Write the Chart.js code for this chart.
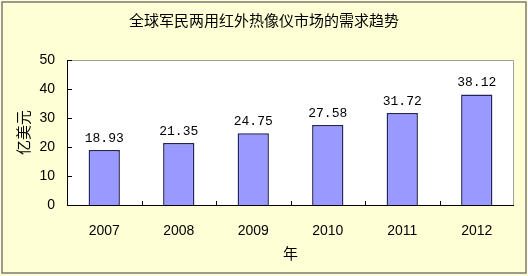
<!DOCTYPE html>
<html>
<head>
<meta charset="utf-8">
<script src="https://cdn.jsdelivr.net/npm/chart.js@4/dist/chart.umd.min.js"></script>
<style>
  html, body { margin: 0; padding: 0; background: #ffffff; }
  #wrap { width: 528px; height: 276px; position: relative; }
</style>
</head>
<body>
<div id="wrap"><canvas id="demandChart" width="528" height="276"></canvas></div>
<script>
// === Data ===
const years = ['2007', '2008', '2009', '2010', '2011', '2012'];
const demand = [18.93, 21.35, 24.75, 27.58, 31.72, 38.12];
const yTicks = [0, 10, 20, 30, 40, 50];
const chartTitle = '全球军民两用红外热像仪市场的需求趋势';
const yTitle = '亿美元';
const xTitle = '年';

// background, frame, title, inside ticks and value labels
const decorPlugin = {
  id: 'decor',
  beforeDraw(chart) {
    const ctx = chart.ctx;
    const a = chart.chartArea;
    ctx.save();
    ctx.fillStyle = '#ffffd6';
    ctx.fillRect(0, 0, chart.width, chart.height);
    ctx.strokeStyle = '#7a7a7a';
    ctx.lineWidth = 1.5;
    ctx.strokeRect(2, 2, chart.width - 4, chart.height - 5);
    ctx.fillStyle = '#ffffff';
    ctx.fillRect(a.left, a.top, a.right - a.left, a.bottom - a.top);
    ctx.strokeStyle = '#a0a0a0';
    ctx.lineWidth = 1;
    ctx.beginPath();
    ctx.moveTo(a.left, a.top + 0.5);
    ctx.lineTo(a.right - 0.5, a.top + 0.5);
    ctx.lineTo(a.right - 0.5, a.bottom);
    ctx.stroke();
    ctx.fillStyle = '#000000';
    ctx.font = '15px "Noto Sans CJK SC"';
    ctx.textAlign = 'center';
    ctx.textBaseline = 'middle';
    ctx.fillText(chartTitle, chart.width / 2, 20);
    ctx.restore();
  },
  afterDraw(chart) {
    const ctx = chart.ctx;
    const a = chart.chartArea;
    const x = chart.scales.x;
    const y = chart.scales.y;
    ctx.save();
    ctx.strokeStyle = '#000000';
    ctx.lineWidth = 1;
    ctx.beginPath();
    ctx.moveTo(a.left + 0.5, a.top);
    ctx.lineTo(a.left + 0.5, a.bottom + 0.5);
    ctx.lineTo(a.right, a.bottom + 0.5);
    yTicks.forEach(v => {
      const py = Math.round(y.getPixelForValue(v)) + 0.5;
      ctx.moveTo(a.left, py);
      ctx.lineTo(a.left + 5, py);
    });
    const step = (a.right - a.left) / years.length;
    for (let i = 1; i < years.length; i++) {
      const px = Math.round(a.left + step * i) + 0.5;
      ctx.moveTo(px, a.bottom);
      ctx.lineTo(px, a.bottom - 4);
    }
    ctx.stroke();

    const meta = chart.getDatasetMeta(0);
    ctx.fillStyle = '#000000';
    ctx.font = '13px "Liberation Mono"';
    ctx.textAlign = 'center';
    ctx.textBaseline = 'bottom';
    meta.data.forEach((bar, i) => {
      ctx.fillText(demand[i].toFixed(2), bar.x, bar.y - 5);
    });
    ctx.restore();
  }
};

const ctx = document.getElementById('demandChart').getContext('2d');
new Chart(ctx, {
  type: 'bar',
  data: {
    labels: years,
    datasets: [{
      label: yTitle,
      data: demand,
      backgroundColor: '#9999ff',
      borderColor: '#23235e',
      borderWidth: 1.5,
      borderSkipped: 'bottom',
      categoryPercentage: 0.84,
      barPercentage: 0.5
    }]
  },
  options: {
    responsive: false,
    animation: false,
    layout: { padding: { left: 0, top: 60, right: 14, bottom: 0 } },
    plugins: {
      legend: { display: false },
      tooltip: { enabled: false }
    },
    scales: {
      x: {
        afterFit: s => { s.height = 71; },
        grid: { display: false },
        border: { display: false },
        ticks: { color: '#000000', padding: 10, font: { family: 'Liberation Sans', size: 14 } },
        title: {
          display: true, text: xTitle, color: '#000000',
          padding: { top: 0, bottom: 14 },
          font: { family: 'Noto Sans CJK SC', size: 15 }
        }
      },
      y: {
        min: 0,
        max: 50,
        afterFit: s => { s.width = 67; },
        afterBuildTicks: s => { s.ticks = yTicks.map(v => ({ value: v })); },
        grid: { display: false },
        border: { display: false },
        ticks: { color: '#000000', padding: 4, font: { family: 'Liberation Sans', size: 14 } },
        title: {
          display: true, text: yTitle, color: '#000000',
          padding: { top: 14, bottom: 0 },
          font: { family: 'Noto Sans CJK SC', size: 15 }
        }
      }
    }
  },
  plugins: [decorPlugin]
});
</script>
</body>
</html>
